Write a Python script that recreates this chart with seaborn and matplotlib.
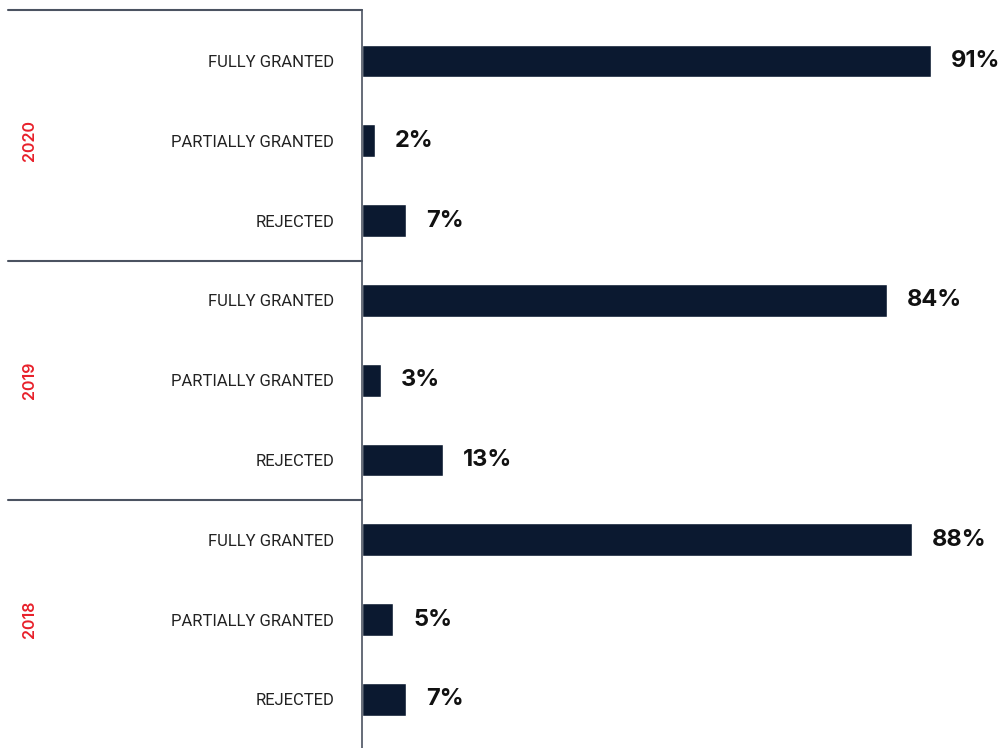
import matplotlib
matplotlib.use("Agg")
import matplotlib.pyplot as plt
import seaborn as sns
import pandas as pd

years = ["2020", "2019", "2018"]
categories = ["FULLY GRANTED", "PARTIALLY GRANTED", "REJECTED"]
values_2020 = [91, 2, 7]
values_2019 = [84, 3, 13]
values_2018 = [88, 5, 7]
all_values = [values_2020, values_2019, values_2018]

rows = []
for year, vals in zip(years, all_values):
    for cat, v in zip(categories, vals):
        rows.append({"key": f"{year}|{cat}", "year": year, "category": cat, "value": v})
df = pd.DataFrame(rows)

sns.set_theme(style="white")
plt.rcParams["font.family"] = ["Inter", "DejaVu Sans"]

BAR = "#0b1930"
LINE = "#4b5361"
RED = "#e8202a"

fig = plt.figure(figsize=(10.04, 7.48), dpi=100)
W, H = 1004, 748
left, right, top, bottom = 362, 987, 10, 748
ax = fig.add_axes([left / W, 1 - bottom / H, (right - left) / W, (bottom - top) / H])

sns.barplot(data=df, x="value", y="key", order=list(df["key"]), orient="h",
            color=BAR, width=0.41, saturation=1, ax=ax)

ax.set_xlim(0, 100)
ax.set_ylim(8.61, -0.64)
ax.set_xlabel("")
ax.set_ylabel("")
ax.set_xticks([])
ax.set_yticks(range(len(df)))
ax.set_yticklabels(df["category"], fontsize=12, color="#222222", family=["Roboto", "DejaVu Sans"])
ax.tick_params(axis="y", length=0, pad=20)

for s in ["top", "right", "bottom"]:
    ax.spines[s].set_visible(False)
ax.spines["left"].set_color(LINE)
ax.spines["left"].set_linewidth(1.2)

# value labels next to each bar
for i, v in enumerate(df["value"]):
    ax.text(v + 3.2, i, f"{v}%", va="center", ha="left",
            fontsize=17, fontweight="bold", color="#111111")

# group separators and year labels
trans = ax.get_yaxis_transform()
x0 = (8 - left) / (right - left)
n = len(categories)
for g, year in enumerate(years):
    y_top = g * n - 0.5 if g > 0 else -0.64
    ax.plot([x0, 0], [y_top, y_top], color=LINE, lw=1.5, transform=trans, clip_on=False)
    center = g * n + (n - 1) / 2
    ax.text((29 - left) / (right - left), center, year, transform=trans,
            rotation=90, ha="center", va="center", fontsize=11.5,
            fontweight="semibold", color=RED, clip_on=False)

fig.savefig("out.png", dpi=100)
